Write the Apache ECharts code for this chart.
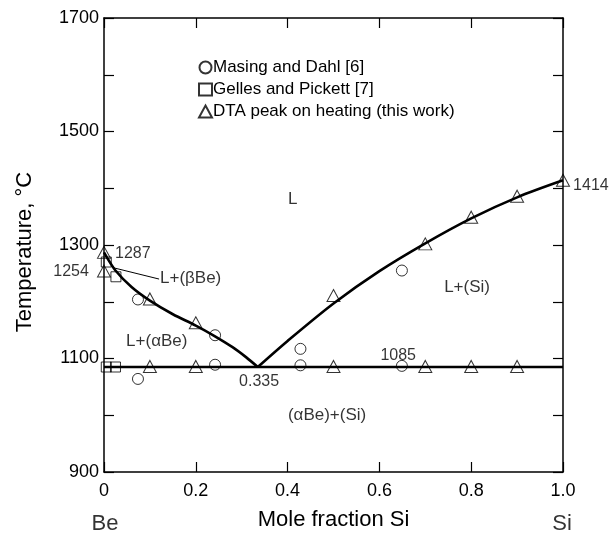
<!DOCTYPE html>
<html>
<head>
<meta charset="utf-8">
<script src="https://cdn.jsdelivr.net/npm/echarts@6/dist/echarts.min.js"></script>
<style>
html,body{margin:0;padding:0;background:#fff;}
#c{width:611px;height:536px;}
</style>
</head>
<body>
<div id="c"></div>
<script>
// ---- data ----
var eutecticX = [0, 1];
var eutecticT = [1085, 1085];

var beLiqX = [0, 0.025, 0.06, 0.1, 0.15, 0.2, 0.24, 0.28, 0.31, 0.335];
var beLiqT = [1287, 1255, 1226, 1202, 1178, 1158, 1140, 1120, 1102, 1085];

var siLiqX = [0.335, 0.4, 0.5, 0.6, 0.7, 0.8, 0.9, 1.0];
var siLiqT = [1085, 1131, 1197, 1254, 1303, 1347, 1384, 1414];

var leaderX = [0.02, 0.12];
var leaderT = [1260, 1240];

var masingX = [0.074, 0.242, 0.074, 0.242, 0.428, 0.428, 0.649, 0.649];
var masingT = [1204, 1141, 1064, 1089, 1117, 1088, 1255, 1087];

var gellesX = [0.005, 0.026, 0.005, 0.025];
var gellesT = [1270, 1244, 1085, 1085];

var dtaX = [0, 0, 0.1, 0.2, 0.5, 0.7, 0.8, 0.9, 1.0, 0.1, 0.2, 0.5, 0.7, 0.8, 0.9];
var dtaT = [1287, 1254, 1205, 1163, 1211, 1302, 1349, 1386, 1414, 1086, 1086, 1086, 1086, 1086, 1086];

var seriesNames = ['Masing and Dahl [6]', 'Gelles and Pickett [7]', 'DTA peak on heating (this work)'];

var yTickLabels = [900, 1100, 1300, 1500, 1700];
var xTickLabels = {0: '0', 0.2: '0.2', 0.4: '0.4', 0.6: '0.6', 0.8: '0.8', 1: '1.0'};

var annoText = ['L', 'L+(Si)', 'L+(\u03b1Be)', 'L+(\u03b2Be)', '0.335', '1085', '(\u03b1Be)+(Si)', '1287', '1254', '1414', 'Be', 'Si'];
var annoX = [0.411, 0.791, 0.115, 0.122, 0.338, 0.641, 0.486, 0.024, -0.033, 1.022, 0.002, 0.998];
var annoT = [1380, 1226, 1130, 1242, 1060, 1105, 1000, 1284, 1253, 1404, 808, 808];
var annoAlign = ['center', 'center', 'center', 'left', 'center', 'center', 'center', 'left', 'right', 'left', 'center', 'center'];
var annoSize = [17, 17, 17, 17, 16, 16, 17, 16, 16, 16, 22, 22];

function zip(xs, ys) { return xs.map(function (x, i) { return [x, ys[i]]; }); }

var FONT = 'Liberation Sans, Arial, Helvetica, sans-serif';

var annoData = annoText.map(function (t, i) {
  return {
    value: [annoX[i], annoT[i]],
    label: { formatter: t, align: annoAlign[i], fontSize: annoSize[i] }
  };
});

var hollow = { color: 'rgba(255,255,255,0)', borderColor: '#000', borderWidth: 1 };

var chart = echarts.init(document.getElementById('c'), null, { renderer: 'canvas' });
var axisLine = { show: true, onZero: false, lineStyle: { color: '#000', width: 1.5 } };
var axisTick = { show: true, inside: true, length: 10, lineStyle: { color: '#000', width: 1.2 } };

chart.setOption({
  animation: false,
  backgroundColor: '#fff',
  textStyle: { fontFamily: FONT, color: '#000' },
  grid: { left: 104, right: 48, top: 18, bottom: 62, containLabel: false },
  legend: {
    data: seriesNames,
    orient: 'vertical',
    left: 198,
    top: 59,
    padding: 0,
    itemWidth: 13,
    itemHeight: 12,
    itemGap: 5,
    textStyle: { fontSize: 17, color: '#000', fontFamily: FONT, padding: [0, 0, 0, -4] },
    selectedMode: false
  },
  xAxis: [{
    type: 'value', min: 0, max: 1, interval: 0.2,
    axisLine: axisLine, axisTick: axisTick, splitLine: { show: false },
    axisLabel: {
      fontSize: 18, color: '#000', margin: 10, fontFamily: FONT,
      formatter: function (v) { var k = Math.round(v * 10) / 10; return xTickLabels[k] !== undefined ? xTickLabels[k] : ''; }
    },
    name: 'Mole fraction Si', nameLocation: 'middle', nameGap: 37,
    nameTextStyle: { fontSize: 22, color: '#000', fontFamily: FONT }
  }, {
    type: 'value', min: 0, max: 1, interval: 0.2, position: 'top',
    axisLine: axisLine, axisTick: axisTick, splitLine: { show: false },
    axisLabel: { show: false }
  }],
  yAxis: [{
    type: 'value', min: 900, max: 1700, interval: 100,
    axisLine: axisLine, axisTick: axisTick, splitLine: { show: false },
    axisLabel: {
      fontSize: 18, color: '#000', margin: 5, fontFamily: FONT,
      formatter: function (v) { return yTickLabels.indexOf(v) >= 0 ? String(v) : ''; }
    },
    name: 'Temperature, \u00b0C', nameLocation: 'middle', nameGap: 68,
    nameTextStyle: { fontSize: 22, color: '#000', fontFamily: FONT, padding: [0, 14, 0, 0] }
  }, {
    type: 'value', min: 900, max: 1700, interval: 100, position: 'right',
    axisLine: axisLine, axisTick: axisTick, splitLine: { show: false },
    axisLabel: { show: false }
  }],
  series: [
    { type: 'line', data: zip(eutecticX, eutecticT), showSymbol: false, lineStyle: { color: '#000', width: 2.6 }, silent: true, z: 2 },
    { type: 'line', data: zip(beLiqX, beLiqT), smooth: 0.3, showSymbol: false, lineStyle: { color: '#000', width: 2.6 }, silent: true, z: 2 },
    { type: 'line', data: zip(siLiqX, siLiqT), smooth: 0.3, showSymbol: false, lineStyle: { color: '#000', width: 2.6 }, silent: true, z: 2 },
    { type: 'line', data: zip(leaderX, leaderT), showSymbol: false, lineStyle: { color: '#000', width: 1 }, silent: true, z: 2 },
    { name: seriesNames[0], type: 'scatter', data: zip(masingX, masingT), symbol: 'circle', symbolSize: 11, itemStyle: hollow, clip: false, z: 3 },
    { name: seriesNames[1], type: 'scatter', data: zip(gellesX, gellesT), symbol: 'rect', symbolSize: 10, itemStyle: hollow, clip: false, z: 3 },
    { name: seriesNames[2], type: 'scatter', data: zip(dtaX, dtaT), symbol: 'triangle', symbolSize: [13, 12], itemStyle: hollow, clip: false, z: 3 },
    {
      type: 'scatter', data: annoData, symbolSize: 0, clip: false, silent: true, z: 4,
      label: { show: true, position: 'inside', color: '#000', fontFamily: FONT, verticalAlign: 'middle' }
    }
  ]
});
</script>
</body>
</html>
